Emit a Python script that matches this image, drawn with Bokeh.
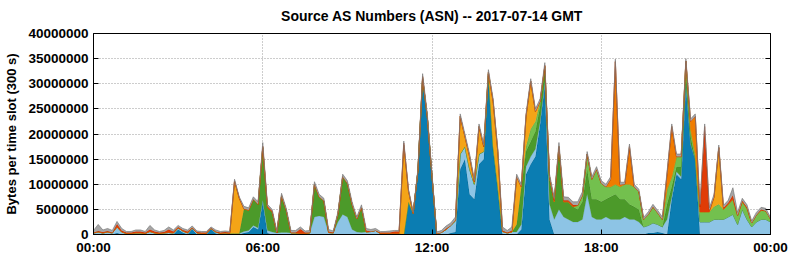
from bokeh.plotting import figure
from bokeh.models import ColumnDataSource, FixedTicker, LinearAxis, BasicTickFormatter, Range1d
from bokeh.transform import stack
from bokeh.embed import file_html
from bokeh.resources import INLINE

TITLE = "Source AS Numbers (ASN) -- 2017-07-14 GMT"
Y_LABEL = "Bytes per time slot (300 s)"
X_TICKS = [0, 6, 12, 18, 24]
X_TICK_LABELS = ["00:00", "06:00", "12:00", "18:00", "00:00"]
Y_TICKS = [0, 5000000, 10000000, 15000000, 20000000, 25000000, 30000000, 35000000, 40000000]

# time axis: 10-minute samples, in hours
hours = [i / 6 for i in range(145)]

# values in millions of bytes per slot, 6 samples per hour
dark_blue = [
    0, 0, 0, 0, 0, .3,   0, 0, 0, 0, 0, 0,   0, 0, 0, 0, 0, 0,   1.0, .4, 0, 1.1, 0, 0,
    0, 1.1, .2, 0, 0, 0,   0, 0, .3, .5, 1.5, 1.0,   6.5, .3, 0, 0, 0, 0,   0, 0, 0, 0, 0, 0,
    0, 0, 0, 0, 0, 0,   0, 0, 0, 0, 0, 0,   0, 0, 0, 0, 0, 0,   0, 6.5, 4.2, 12.6, 31.0, 23.4,
    11.5, 0, 0, 0, .3, .5,   13, 15, 8, 7, 14, 15,   31.5, 17, 9, 0, 0, 0,   0, 1, 12, 14, 15.5, 22,
    30, 3, 0, 0, 0, 0,   0, 0, 0, 0, 0, 0,   0, 0, 0, 0, 0, 0,   0, 0, 0, 0, .3, .3,
    .5, .3, 0, 7, 12, 11,   30, 18, 15, 0, 0, 0,   0, 0, 0, 0, 0, 0,   0, 0, 0, 0, 0, 0,
    0]
light_blue = [
    .3, .5, .3, .5, .3, 1.2,   .5, .2, .2, .3, .3, .2,   .6, .3, .2, .3, .4, .3,   .3, .3, .3, .2, .3, .2,
    .2, .1, .3, .2, .3, .2,   .2, .2, .3, .3, .3, .3,   .3, .5, .5, .3, .4, .4,   .3, .3, .2, .2, .3, 3.5,
    3.7, 3.5, .4, .3, 2.5, 4.0,   3.5, 1.0, .5, .4, .5, .6,   .8, .2, .2, .2, .2, .2,   0, 0, 0, 0, 0, 0,
    .1, .2, .4, 1.0, 1.5, 2.2,   3, 2.5, 5, 3, 2, 1.5,   .5, .5, .5, .6, .3, .5,   .5, 1, 1.5, 1.5, 1.5, .5,
    .3, 3, 3, 5, 3.5, 3,   2.5, 2.5, 3, 8, 3.5, 3,   3, 3.5, 3, 3, 3, 3.5,   3, 3, 2.5, 1.5, 1.5, 2,
    1.5, 1.2, 3, .5, .5, .5,   .3, 0, 0, 2.5, 2.5, 2.5,   3, 3, 3, 3.5, 4, 2,   5, 3, 1.5, 2.5, 3, 3,
    2.5]
dark_green = [
    0, 0, 0, 0, 0, 0,   0, 0, 0, 0, 0, 0,   0, 0, 0, 0, 0, 0,   0, 0, 0, 0, 0, 0,
    0, 0, 0, 0, 0, 0,   0, 0, 4.5, 4.0, 5.2, 4.7,   10.5, 4.5, 4.0, 0, 7.3, 4.4,   0, 0, 0, 0, 0, 6.5,
    3.8, 3.2, 0, 0, 1.6, 7.5,   6.7, 5.0, 2.6, 5.0, 0, 0,   0, 0, 0, 0, 0, 0,   0, 0, 0, 0, 0, 0,
    0, 0, 0, 0, 0, 0,   0, 0, 0, 0, 0, 0,   0, 0, 0, 0, 0, 0,   1.5, 7.5, 3, 3, 3.5, 3,
    2.5, 5, 3.5, 12, 3, 3.5,   3, 2.5, 3.5, 5, 3.5, 4,   3.5, 3.5, 4.5, 5, 4, 3.5,   3, 2.5, 2.5, 0, 0, 0,
    0, 0, 3, 2, 1, 2,   2, 1.5, 0, 0, 0, 0,   0, 0, 0, 0, 0, 0,   0, 0, 0, 0, 0, 0,
    0]
light_green = [
    0, 0, 0, 0, 0, 0,   0, 0, 0, 0, 0, 0,   0, 0, 0, 0, 0, 0,   0, 0, 0, 0, 0, 0,
    0, 0, 0, 0, 0, 0,   0, 0, 0, 0, 0, 0,   0, 0, 0, 0, 0, 0,   0, 0, 0, 0, 0, 0,
    0, 0, 0, 0, 0, 0,   0, 0, 0, 0, 0, 0,   0, 0, 0, 0, 0, 0,   0, 0, 0, 0, 0, 0,
    0, 0, 0, 0, 0, 0,   0, 0, 0, 0, 0, 0,   0, 0, 0, 0, 0, 0,   0, 0, 1, 2.5, 2, 1,
    .5, .5, 0, .5, 0, 0,   0, .8, 1.3, 3, 4, 6,   3.7, 2.5, 2, 2, 2.5, 3,   4, 4, 3.5, 1.5, 2.2, 3.2,
    2.3, 1.5, 3, 2, 2, 2,   2.2, 1.5, 1, 2, 2, 2,   2.5, 3, 2, 2.5, 3, 1.8,   1.5, 2.2, .8, 1.4, 1.8, 1.7,
    .6]
amber = [
    0, 0, 0, 0, 0, 0,   0, 0, 0, 0, 0, 0,   0, 0, 0, 0, 0, 0,   0, 0, 0, 0, 0, 0,
    0, 0, 0, 0, 0, 0,   10.4, 7.0, 0, 0, 0, 0,   0, 0, 0, 0, 0, 0,   0, 0, 0, 0, 0, 0,
    0, 0, 0, 0, 0, 0,   0, 0, 0, 0, 0, 0,   0, 0, 0, 0, 0, 0,   17.8, 2.2, 0, 0, .3, 0,
    0, 0, 0, 0, 0, .2,   7.5, 2, 2.5, .5, 5.5, 1,   .3, 9, 7, 0, 0, 0,   9.5, 0, 6, 9.5, 2, 0,
    .2, 0, 0, 0, 0, 0,   0, 0, 0, 0, 0, 0,   0, 0, 0, 0, 0, 0,   0, 0, 0, 0, 0, 0,
    0, 0, 0, 0, 0, 0,   0, 0, 0, 0, 0, 0,   2, 11.3, 0, 0, 0, 0,   0, 0, 0, 0, 0, 0,
    0]
orange = [
    0, 0, 0, 0, 0, 0,   0, 0, 0, 0, 0, 0,   0, 0, 0, 0, 0, 0,   0, 0, 0, 0, 0, 0,
    0, 0, 0, 0, 0, 0,   0, 0, 0, 0, 0, 0,   0, 0, 0, 0, 0, 0,   0, 0, 0, 0, 0, 0,
    0, 0, 0, 0, 0, 0,   0, 0, 0, 0, 0, 0,   0, 0, 0, 0, 0, 0,   0, 0, 0, 0, 0, 0,
    0, 0, 0, 0, 0, 0,   0, 0, 0, 0, 0, 0,   0, 0, 0, 0, 0, 0,   0, 0, 0, 0, 0, 0,
    0, 0, 0, 0, 0, 0,   0, 0, 0, 0, 0, 0,   0, 0, 1.5, 24.4, .4, 0,   7.5, 0, 0, 0, 0, 0,
    0, 0, 3, 10, 0, 0,   0, 1.5, 7.5, 0, 0, 0,   0, 0, 0, 0, 0, 0,   0, 0, 0, 0, 0, 0,
    0]
red = [
    .1, .2, .2, .2, .1, .6,   .3, .2, .2, .3, .3, .2,   .4, .3, .2, .2, .6, .3,   .2, .2, .3, .1, .2, .2,
    .2, .1, .1, .2, .2, .2,   .1, .1, 0, .1, 0, 0,   .3, .3, .2, 0, 0, 0,   .1, .1, .9, .2, .1, 0,
    0, 0, .2, .1, 0, 0,   0, 0, 0, 0, .3, 0,   0, .2, .2, .2, .4, .4,   .4, 0, 0, 0, .2, 0,
    0, 0, 0, .2, 0, 0,   0, 0, 0, 0, 0, 0,   0, 0, 0, .2, .1, .3,   0, 0, 0, 0, 0, 0,
    .2, 0, .3, 0, .3, .3,   .4, 0, 0, 0, 0, 0,   0, 0, 0, 0, 0, 0,   0, 0, 0, 0, 0, 0,
    0, 0, 0, 0, 0, 0,   0, 0, 0, 1, 17, .3,   0, 0, .3, .3, .8, 0,   .2, .2, 0, 0, .2, 0,
    0]
gray = [
    .4, 1.3, .4, .5, .4, .5,   .4, .2, .2, .3, .3, .2,   .8, .3, .2, .3, .5, .3,   .3, .3, .3, .3, .2, .2,
    .2, .2, .3, .2, .2, .2,   .3, .2, .5, .4, .5, .5,   .7, .4, .3, .4, .5, .4,   .4, .4, .4, .3, .4, .5,
    .5, .5, .4, .3, .4, .5,   .5, .5, .4, .5, .4, .4,   .4, .2, .2, .3, .2, .2,   .4, .3, .3, .4, .5, .6,
    .5, .3, .4, .5, .5, .6,   .5, .5, .5, .5, .5, .5,   .5, .5, .5, .7, .4, .7,   .5, .5, .5, .5, .5, .5,
    .5, .5, .6, .8, .7, .6,   .6, .7, .7, .5, .5, .5,   .5, .5, .5, .5, .5, .4,   .5, .5, .5, .4, .5, .5,
    .5, .5, .5, .5, .5, .5,   .5, .5, .5, .6, .5, .5,   .5, .5, .5, .5, 1.5, .6,   .5, .5, .4, .5, .4, .5,
    .3]

names = ["dark_blue", "light_blue", "dark_green", "light_green", "amber", "orange", "red", "gray"]
series = [dark_blue, light_blue, dark_green, light_green, amber, orange, red, gray]
fills = ["#0b7db2", "#8dc4e5", "#4c9a2a", "#73c04e", "#f4a417", "#f07c00", "#e03c06", "#a6a6a6"]
edges = ["#06628e", "#6ea7c8", "#3b7f1f", "#5aa23a", "#d88a08", "#d06400", "#b82e02", "#7a7a7a"]

data = {"x": hours}
for n, s in zip(names, series):
    data[n] = [v * 1e6 for v in s]
source = ColumnDataSource(data)

FONT = "Liberation Sans"

p = figure(width=792, height=259, output_backend="svg", toolbar_location=None,
           x_range=Range1d(0, 24), y_range=Range1d(0, 40e6),
           min_border_left=93, min_border_right=22, min_border_top=33, min_border_bottom=25,
           background_fill_color="white", border_fill_color="white")

p.title.text = TITLE
p.title.align = "center"
p.title.vertical_align = "top"
p.title.text_font = FONT
p.title.text_font_size = "14px"
p.title.text_font_style = "bold"
p.title.text_color = "black"
p.title.standoff = 15

for k, n in enumerate(names):
    y1 = 0 if k == 0 else stack(*names[:k])
    y2 = stack(*names[:k + 1])
    p.varea(x="x", y1=y1, y2=y2, source=source, fill_color=fills[k])
    p.line(x="x", y=y2, source=source, line_color=edges[k], line_width=0.7)

# axes
p.xaxis.ticker = FixedTicker(ticks=X_TICKS)
p.xaxis.major_label_overrides = {t: l for t, l in zip(X_TICKS, X_TICK_LABELS)}
p.yaxis.ticker = FixedTicker(ticks=Y_TICKS)
p.yaxis.formatter = BasicTickFormatter(use_scientific=False)
p.yaxis.axis_label = Y_LABEL

for ax in [p.xaxis[0], p.yaxis[0]]:
    ax.major_tick_in = 5
    ax.major_tick_out = 0
    ax.minor_tick_line_color = None
    ax.axis_line_color = "black"
    ax.major_tick_line_color = "black"
    ax.major_label_text_font = FONT
    ax.major_label_text_font_size = "13.5px"
    ax.major_label_text_font_style = "bold"
    ax.major_label_text_color = "black"
    ax.major_label_standoff = 5
    ax.axis_label_text_font = FONT
    ax.axis_label_text_font_size = "13px"
    ax.axis_label_text_font_style = "bold"
    ax.axis_label_text_color = "black"
    ax.axis_label_standoff = 6

right = LinearAxis(ticker=FixedTicker(ticks=Y_TICKS), major_tick_in=5, major_tick_out=0,
                   minor_tick_line_color=None,
                   major_label_overrides={t: "" for t in Y_TICKS},
                   major_label_standoff=0, axis_line_color="black")
p.add_layout(right, "right")

p.xgrid.ticker = FixedTicker(ticks=X_TICKS)
p.ygrid.ticker = FixedTicker(ticks=Y_TICKS)
for g in [p.xgrid[0], p.ygrid[0]]:
    g.grid_line_color = "#9a9a9a"
    g.grid_line_dash = "1 2"
    g.grid_line_width = 1

p.outline_line_color = "black"
p.outline_line_width = 1

open("out.html", "w").write(file_html(p, INLINE))
